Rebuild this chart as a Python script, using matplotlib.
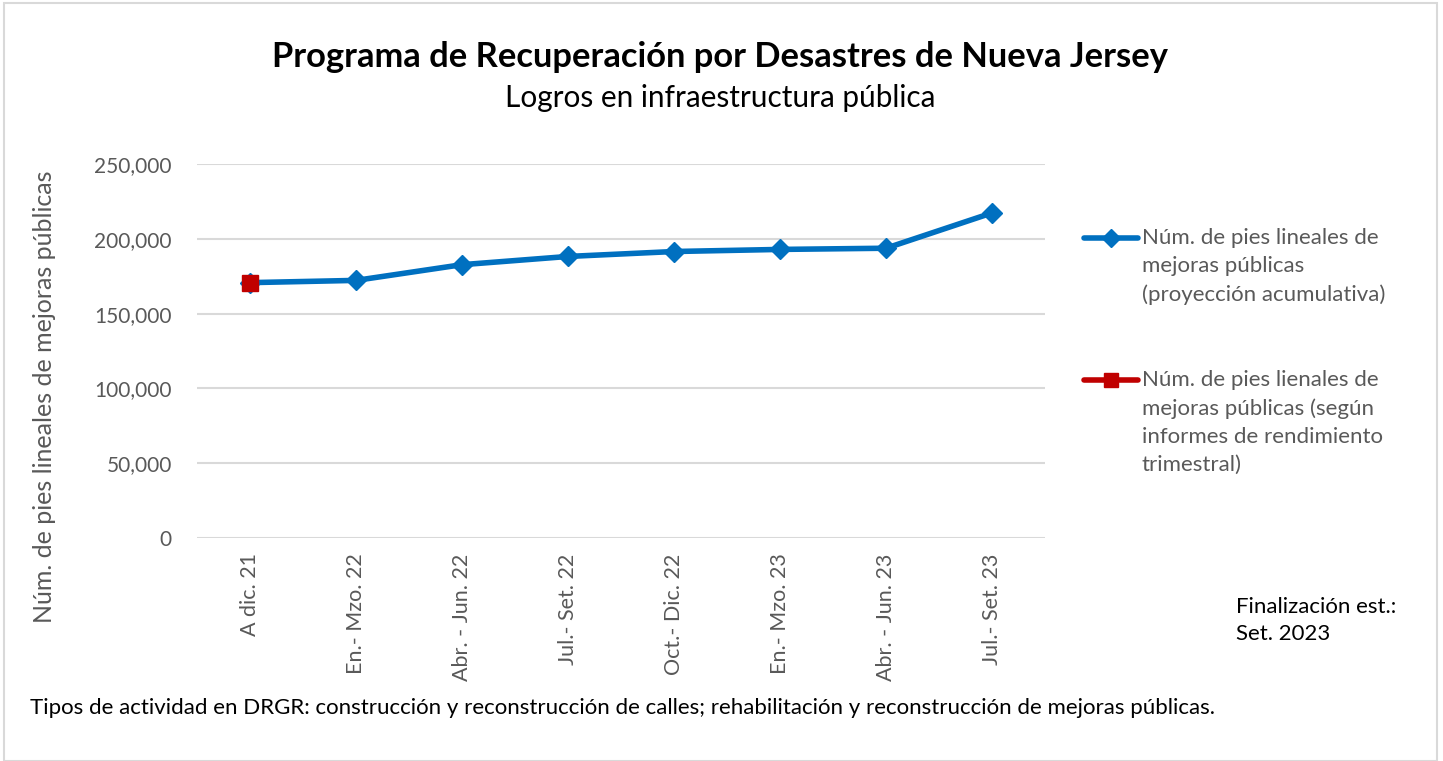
import matplotlib
matplotlib.use("Agg")
import matplotlib.pyplot as plt
from matplotlib.lines import Line2D
from matplotlib.patches import Rectangle
from matplotlib.ticker import FuncFormatter

plt.rcParams['font.family'] = ['Lato', 'DejaVu Sans']

# datos
periodos = ['A dic. 21', 'En.- Mzo. 22', 'Abr. - Jun. 22', 'Jul.- Set. 22',
            'Oct.- Dic. 22', 'En.- Mzo. 23', 'Abr. - Jun. 23', 'Jul.- Set. 23']
proyeccion = [170700, 172200, 182700, 188200, 191500, 192900, 193700, 217300]
real_periodos = ['A dic. 21']
real = [170700]
yticks = [0, 50000, 100000, 150000, 200000, 250000]

azul = '#0070C0'
rojo = '#C00000'
gris = '#595959'

W, H = 1443, 761
fig = plt.figure(figsize=(W / 100, H / 100), dpi=100)

# borde del área del gráfico
fig.add_artist(Rectangle((4 / W, 0), (1437 - 4) / W, 1 - 3 / H, transform=fig.transFigure,
                         fill=False, edgecolor='#D9D9D9', linewidth=1.5))

ax = fig.add_axes([197 / W, 1 - 538 / H, (1045 - 197) / W, (538 - 164) / H])

x = list(range(len(periodos)))
ax.plot(x, proyeccion, color=azul, linewidth=4, marker='D', markersize=10, zorder=3)
xr = [periodos.index(p) for p in real_periodos]
ax.plot(xr, real, color=rojo, linewidth=4, marker='s', markersize=11, zorder=4)

ax.set_xlim(-0.5, len(periodos) - 0.5)
ax.set_ylim(0, 250000)
ax.set_yticks(yticks)
ax.yaxis.set_major_formatter(FuncFormatter(lambda v, p: f'{v:,.0f}'))
ax.set_xticks(x)
ax.set_xticklabels(periodos, rotation=90, va='top', ha='center')
ax.grid(axis='y', color='#D9D9D9', linewidth=1.5)
ax.set_axisbelow(True)
for s in ax.spines.values():
    s.set_visible(False)
ax.tick_params(length=0, labelsize=15.5, colors=gris)
ax.tick_params(axis='y', labelsize=15, pad=18)
ax.tick_params(axis='x', pad=11)

fig.text(45 / W, 1 - 397 / H, 'Núm. de pies lineales de mejoras públicas', rotation=90,
         ha='center', va='center', fontsize=18, color=gris)

fig.text(720 / W, 1 - 57 / H, 'Programa de Recuperación por Desastres de Nueva Jersey',
         ha='center', va='center', fontsize=24.8, fontweight='bold', color='black')
fig.text(720 / W, 1 - 98 / H, 'Logros en infraestructura pública',
         ha='center', va='center', fontsize=21.4, color='black')

# leyenda
leg = [(azul, 'D', 9, 238, 'Núm. de pies lineales de\nmejoras públicas\n(proyección acumulativa)'),
       (rojo, 's', 10, 380, 'Núm. de pies lienales de\nmejoras públicas (según\ninformes de rendimiento\ntrimestral)')]
for col, mk, ms, yy, txt in leg:
    fig.add_artist(Line2D([1084 / W, 1138 / W], [1 - yy / H] * 2, transform=fig.transFigure,
                          color=col, linewidth=4, solid_capstyle='round'))
    fig.add_artist(Line2D([1111 / W], [1 - yy / H], transform=fig.transFigure,
                          color=col, marker=mk, markersize=ms, linestyle='none'))
    fig.text(1142 / W, 1 - (yy - 10) / H, txt, ha='left', va='top', fontsize=16,
             color=gris, linespacing=1.5)

fig.text(1236 / W, 1 - 597 / H, 'Finalización est.:\nSet. 2023', ha='left', va='top',
         fontsize=16, color='black', linespacing=1.45)
fig.text(30 / W, 1 - 708 / H,
         'Tipos de actividad en DRGR: construcción y reconstrucción de calles; '
         'rehabilitación y reconstrucción de mejoras públicas.',
         ha='left', va='center', fontsize=16, color='black')

fig.savefig('out.png', dpi=100)
